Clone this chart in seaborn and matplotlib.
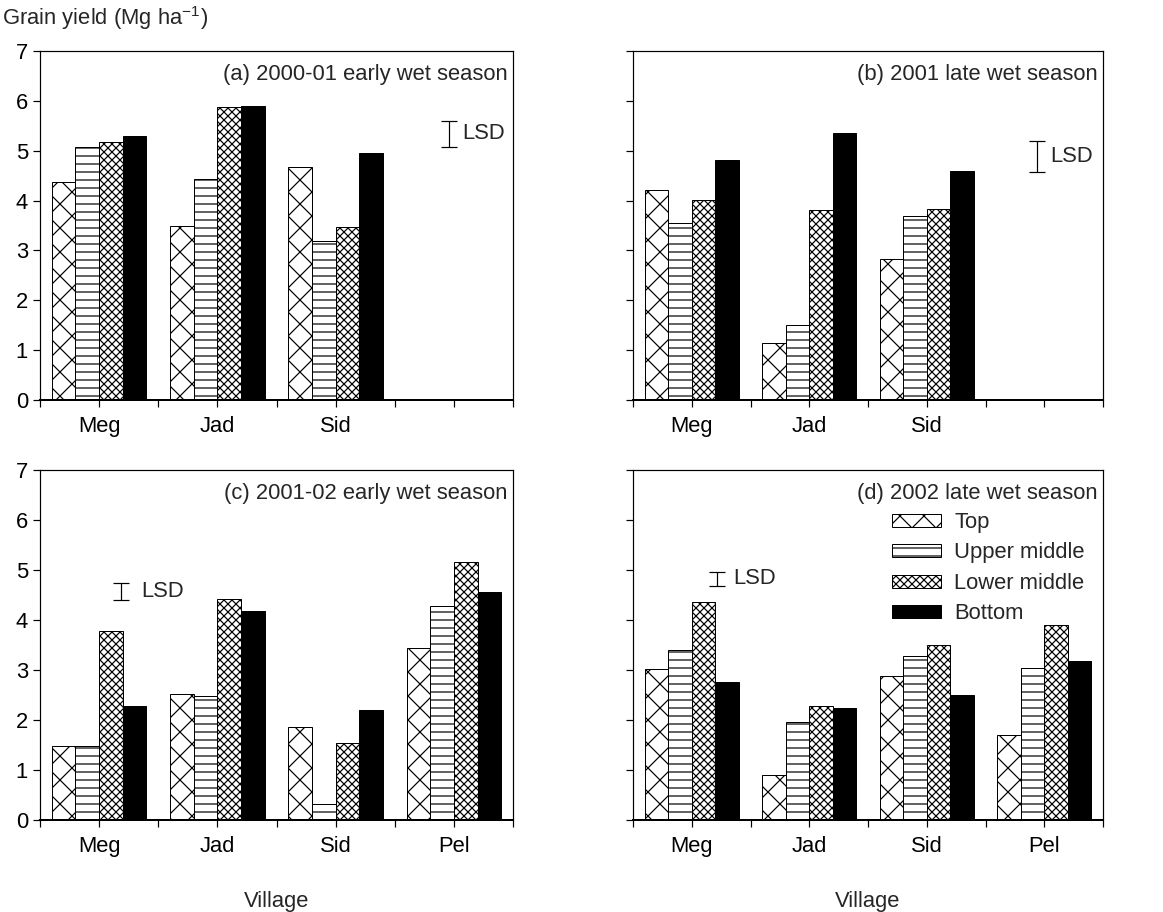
import seaborn as sns
import matplotlib.pyplot as plt
import pandas as pd
from matplotlib.patches import Patch

# ── data (Mg/ha), rows = village, columns = slope position ─────────────────
villages = ["Meg", "Jad", "Sid", "Pel"]
positions = ["Top", "Upper middle", "Lower middle", "Bottom"]

yield_a = [[4.37, 5.08, 5.18, 5.30],
           [3.48, 4.43, 5.87, 5.89],
           [4.67, 3.19, 3.46, 4.95]]
yield_b = [[4.21, 3.55, 4.01, 4.81],
           [1.15, 1.50, 3.81, 5.35],
           [2.83, 3.70, 3.83, 4.60]]
yield_c = [[1.49, 1.48, 3.78, 2.28],
           [2.53, 2.49, 4.42, 4.18],
           [1.86, 0.32, 1.55, 2.20],
           [3.44, 4.29, 5.17, 4.56]]
yield_d = [[3.03, 3.41, 4.37, 2.76],
           [0.91, 1.96, 2.29, 2.24],
           [2.89, 3.28, 3.50, 2.51],
           [1.71, 3.05, 3.91, 3.18]]

titles = ["(a) 2000-01 early wet season", "(b) 2001 late wet season",
          "(c) 2001-02 early wet season", "(d) 2002 late wet season"]

# LSD bars: (low, high)
lsd_a = (5.08, 5.60)
lsd_b = (4.58, 5.20)
lsd_c = (4.40, 4.74)
lsd_d = (4.68, 4.96)

# ── style ───────────────────────────────────────────────────────────────────
sns.set_style("ticks")
plt.rcParams["font.family"] = ["Liberation Sans", "DejaVu Sans"]
plt.rcParams["mathtext.fontset"] = "custom"
plt.rcParams["mathtext.rm"] = "Liberation Sans"
plt.rcParams["hatch.linewidth"] = 0.6
plt.rcParams["hatch.color"] = "black"

FS = 11
hatches = {"Top": "xx", "Upper middle": "---", "Lower middle": "xxxxxx", "Bottom": ""}
fills = {"Top": "white", "Upper middle": "white", "Lower middle": "white", "Bottom": "black"}

W, H, DPI = 1163, 912, 144
fig = plt.figure(figsize=(W / DPI, H / DPI), dpi=DPI)


def px_axes(left, top, right, bottom):
    return fig.add_axes([left / W, 1 - bottom / H, (right - left) / W, (bottom - top) / H])


def to_long(table):
    rows = []
    for v, vals in zip(villages, table):
        for p, y in zip(positions, vals):
            rows.append({"Village": v, "Position": p, "Yield": y})
    return pd.DataFrame(rows)


def panel(ax, table, title, lsd, lsd_x, lsd_off, show_y, bottom_row, labels):
    df = to_long(table)
    sns.barplot(data=df, x="Village", y="Yield", hue="Position", order=villages,
                hue_order=positions, palette=fills, saturation=1, width=0.8,
                edgecolor="black", linewidth=0.5, errorbar=None, legend=False, ax=ax)
    for cont, p in zip(ax.containers, positions):
        for bar in cont:
            bar.set_hatch(hatches[p])
            bar.set_facecolor(fills[p])

    ax.set_xlim(-0.5, 3.5)
    ax.set_ylim(0, 7)
    ax.set_yticks(range(8))
    ax.set_xticks(range(4))
    ax.set_xticklabels(labels)
    ax.set_xticks([-0.5, 0.5, 1.5, 2.5, 3.5], minor=True)
    ax.tick_params(axis="both", which="both", direction="out", length=3.5,
                   width=0.6, labelsize=FS, colors="black")
    ax.tick_params(axis="x", pad=4.5)
    ax.tick_params(axis="y", pad=2.5, labelleft=show_y)
    for s in ax.spines.values():
        s.set_linewidth(0.6)
        s.set_color("black")
        s.set_visible(True)
    ax.spines["bottom"].set_linewidth(1.0)
    ax.set_ylabel("")
    ax.set_xlabel("Village" if bottom_row else "", fontsize=FS, labelpad=17)

    ax.text(0.988, 0.933, title, transform=ax.transAxes, ha="right", va="center",
            fontsize=FS)

    lo, hi = lsd
    mid = (lo + hi) / 2
    ax.errorbar([lsd_x], [mid], yerr=[(hi - lo) / 2], fmt="none", ecolor="black",
                elinewidth=0.6, capsize=4.2, capthick=0.6)
    ax.annotate("LSD", xy=(lsd_x, mid), xytext=(lsd_off, 0), textcoords="offset points",
                ha="left", va="center", fontsize=FS)


ax_a = px_axes(40, 51, 513, 400)
ax_b = px_axes(633, 51, 1103, 400)
ax_c = px_axes(40, 470, 513, 820)
ax_d = px_axes(633, 470, 1103, 820)

top_labels = ["Meg", "Jad", "Sid", ""]
panel(ax_a, yield_a, titles[0], lsd_a, 2.96, 6.5, True, False, top_labels)
panel(ax_b, yield_b, titles[1], lsd_b, 2.94, 6.5, False, False, top_labels)
panel(ax_c, yield_c, titles[2], lsd_c, 0.185, 10, True, True, villages)
panel(ax_d, yield_d, titles[3], lsd_d, 0.215, 8, False, True, villages)

handles = [Patch(facecolor=fills[p], edgecolor="black", linewidth=0.5, hatch=hatches[p])
           for p in positions]
ax_d.legend(handles, positions, loc="upper left", bbox_to_anchor=(0.551, 0.88),
            frameon=False, fontsize=FS, borderpad=0, borderaxespad=0,
            handlelength=2.24, handleheight=0.55, handletextpad=0.6, labelspacing=0.43)

fig.text(2 / W, 1 - 18 / H, "Grain yield (Mg ha$^{-1}$)", ha="left", va="center",
         fontsize=FS)

fig.savefig("out.png", dpi=DPI)
